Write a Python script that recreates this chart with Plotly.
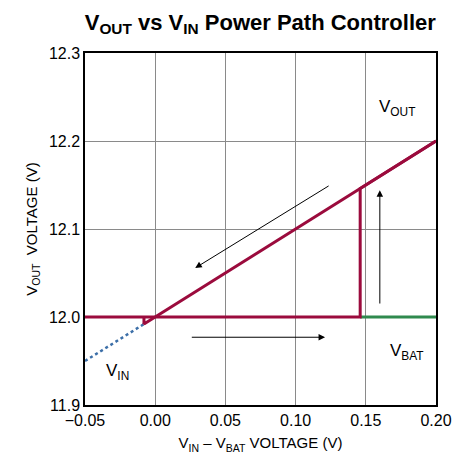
import plotly.graph_objects as go

# Data
rise_x = [-0.05, 0.146, 0.146, 0.2]
rise_y = [12.0, 12.0, 12.146, 12.2]
fall_x = [0.2, -0.008, -0.008]
fall_y = [12.2, 11.992, 12.0]
vin_x = [-0.05, -0.008]
vin_y = [11.95, 11.992]
vbat_x = [0.146, 0.2]
vbat_y = [12.0, 12.0]
x_ticks = [-0.05, 0.0, 0.05, 0.10, 0.15, 0.20]
x_tick_labels = ["\u22120.05", "0.00", "0.05", "0.10", "0.15", "0.20"]
y_ticks = [11.9, 12.0, 12.1, 12.2, 12.3]
y_tick_labels = ["11.9", "12.0", "12.1", "12.2", "12.3"]

CRIMSON = "#9b0b3d"
BLUE = "#3c6fa8"
GREEN = "#2f8a4e"
FONT = "Liberation Sans, Arial, sans-serif"

fig = go.Figure()
fig.add_trace(go.Scatter(x=vin_x, y=vin_y, mode="lines",
                         line=dict(color=BLUE, width=2.5, dash="dot")))
fig.add_trace(go.Scatter(x=vbat_x, y=vbat_y, mode="lines",
                         line=dict(color=GREEN, width=3)))
fig.add_trace(go.Scatter(x=rise_x, y=rise_y, mode="lines",
                         line=dict(color=CRIMSON, width=3)))
fig.add_trace(go.Scatter(x=fall_x, y=fall_y, mode="lines",
                         line=dict(color=CRIMSON, width=3)))

arrows = [
    (0.1246, 12.15, 0.0285, 12.0557),
    (0.025, 11.977, 0.121, 11.977),
    (0.160, 12.0136, 0.160, 12.144),
]
for x0, y0, x1, y1 in arrows:
    fig.add_annotation(x=x1, y=y1, ax=x0, ay=y0, xref="x", yref="y",
                       axref="x", ayref="y", showarrow=True, arrowhead=2,
                       arrowsize=1.3, arrowwidth=1, arrowcolor="black", text="")

labels = [
    (0.172, 12.237, "V<sub>OUT</sub>"),
    (-0.027, 11.9375, "V<sub>IN</sub>"),
    (0.179, 11.96, "V<sub>BAT</sub>"),
]
for x, y, t in labels:
    fig.add_annotation(x=x, y=y, xref="x", yref="y", text=t, showarrow=False,
                       font=dict(size=17, color="black", family=FONT))

fig.update_layout(
    width=455, height=465,
    margin=dict(l=85, r=19, t=53, b=60, autoexpand=False),
    paper_bgcolor="white", plot_bgcolor="white",
    showlegend=False,
    font=dict(family=FONT, color="black", size=16),
    title=dict(text="<b>V<sub>OUT</sub> vs V<sub>IN</sub> Power Path Controller</b>",
               x=0.572, xanchor="center", y=0.953, yanchor="middle",
               font=dict(size=22, family=FONT, color="black")),
)
fig.update_xaxes(range=[-0.05, 0.2], tickvals=x_ticks, ticktext=x_tick_labels,
                 showgrid=True, gridcolor="#8a8a8a", gridwidth=1,
                 showline=True, linecolor="black", linewidth=1.5, mirror=True,
                 zeroline=False, ticks="", tickfont=dict(size=16), automargin=False,
                 title=dict(text="V<sub>IN</sub> \u2013 V<sub>BAT</sub> VOLTAGE (V)",
                            font=dict(size=15), standoff=10))
fig.update_yaxes(range=[11.9, 12.3], tickvals=y_ticks, ticktext=y_tick_labels,
                 showgrid=True, gridcolor="#8a8a8a", gridwidth=1,
                 showline=True, linecolor="black", linewidth=1.5, mirror=True,
                 zeroline=False, ticks="", tickfont=dict(size=16), automargin=False,
                 title=dict(text="V<sub>OUT</sub>  VOLTAGE (V)",
                            font=dict(size=15), standoff=8))

fig.write_html("out.html", config={"displayModeBar": False},
               post_script="document.body.style.margin='0';document.body.style.overflow='hidden';")
